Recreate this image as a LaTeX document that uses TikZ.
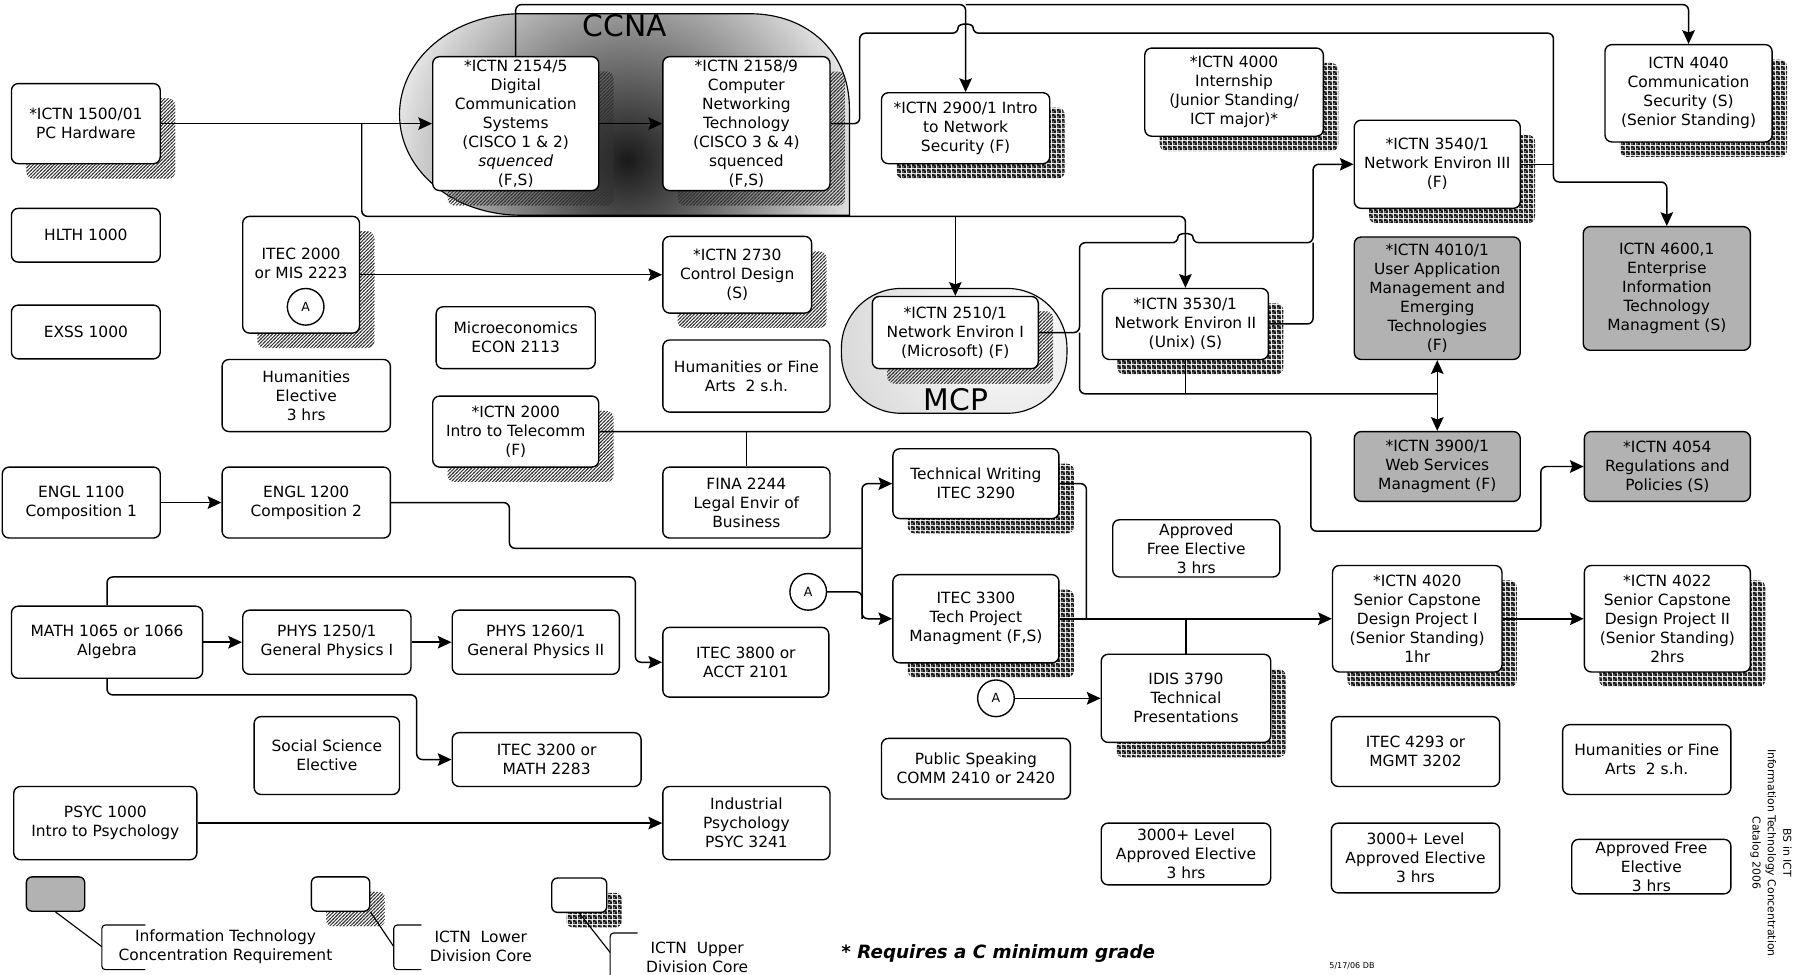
\documentclass[tikz,border=0pt]{standalone}
\usepackage{fontspec}
\setmainfont{DejaVu Sans}
\usetikzlibrary{arrows.meta, positioning, shadows, patterns}

\pgfdeclarepatternformonly{hatchshade}{\pgfqpoint{-1pt}{-1pt}}{\pgfqpoint{4pt}{4pt}}{\pgfqpoint{3pt}{3pt}}{%
  \pgfsetlinewidth{0.8pt}
  \pgfpathmoveto{\pgfqpoint{-0.5pt}{-0.5pt}}
  \pgfpathlineto{\pgfqpoint{3.5pt}{3.5pt}}
  \pgfusepath{stroke}}
\pgfdeclarepatternformonly{dotshade}{\pgfqpoint{0pt}{0pt}}{\pgfqpoint{4pt}{4pt}}{\pgfqpoint{4pt}{4pt}}{%
  \pgfpathrectangle{\pgfqpoint{0pt}{0pt}}{\pgfqpoint{4pt}{4pt}}
  \pgfpathcircle{\pgfqpoint{1pt}{1pt}}{0.85pt}
  \pgfpathcircle{\pgfqpoint{3pt}{3pt}}{0.85pt}
  \pgfseteorule
  \pgfusepath{fill}}

\newcommand{\crsfont}{\fontsize{13.5}{16.6}\selectfont}

\begin{document}
\begin{tikzpicture}[
    x=1pt, y=-1pt, on grid,
    >={Stealth[length=12pt, width=11pt, inset=2pt]},
    wh/.style 2 args={minimum width=#1pt, minimum height=#2pt},
    course/.style={draw, line width=1.2pt, rounded corners=6pt, fill=white,
      align=center, inner sep=2pt, font=\crsfont, wh={146}{62}},
    lowcore/.style={course, general shadow={shadow xshift=13pt,
      shadow yshift=-13pt, pattern=hatchshade, pattern color=black!80}},
    upcore/.style={course, general shadow={shadow xshift=13pt,
      shadow yshift=-13pt, pattern=dotshade, pattern color=black!90}},
    itreq/.style={course, fill=black!30},
    tagA/.style={draw, circle, line width=1.2pt, minimum size=32pt,
      inner sep=0pt, fill=white, font=\fontsize{11}{13}\selectfont},
    flow/.style={line width=1.3pt, rounded corners=5pt},
    keyline/.style={line width=1pt},
  ]
  \fill[white] (0,0) rectangle (1568,851);
  \useasboundingbox (0,0) rectangle (1568,851);

  % CCNA and MCP groups
  \draw[line width=1pt, path picture={\shade[inner color=black!90, outer color=white] (548,140) circle (230);}]
    (455,12) -- (655,12) .. controls (705,12) and (742,45) .. (742,95)
    -- (742,188) -- (455,188) .. controls (396,188) and (349,149) .. (349,100)
    .. controls (349,51) and (396,12) .. (455,12) -- cycle;
  \draw[line width=1pt, rounded corners=52pt, path picture={\shade[inner color=white, outer color=black!30] (880,285) circle (300);}]
    (735,252) rectangle (932,361);

  % first year
  \node[lowcore, wh={130}{70}] (ictn1500) at (75,108) {*ICTN 1500/01\\PC Hardware};
  \node[course, wh={130}{47}] (hlth) at (75,205.5) {HLTH 1000};
  \node[course, wh={130}{47}] (exss) at (75,290) {EXSS 1000};
  \node[course, wh={138}{62}] (engl1100) at (71,439) {ENGL 1100\\Composition 1};
  \node[course, wh={167}{63}] (math) at (93.5,561) {MATH 1065 or 1066\\Algebra};
  \node[course, wh={160}{64}] (psyc1000) at (92,719) {PSYC 1000\\Intro to Psychology};

  \node[lowcore, wh={102}{102}, label={[font=\crsfont, align=center, anchor=north, inner sep=0pt, yshift=-28pt]north:{ITEC 2000\\or MIS 2223}}] (itec2000) at (263,240) {};
  \node[tagA] (circA1) at (267,268) {A};
  \node[course, wh={147}{63}] (humel) at (267.5,345.5) {Humanities\\Elective\\3 hrs};
  \node[course, wh={147}{62}, right=196.5pt of engl1100] (engl1200) {ENGL 1200\\Composition 2};
  \node[course, wh={147}{56}, right=192pt of math] (phys1250) {PHYS 1250/1\\General Physics I};
  \node[course, wh={127}{68}] (socsci) at (285.5,660) {Social Science\\Elective};

  % second year
  \node[course, wh={139}{54}] (econ) at (450.5,295) {Microeconomics\\ECON 2113};
  \node[lowcore, wh={145}{62}] (ictn2000) at (450.5,377) {*ICTN 2000\\Intro to Telecomm\\(F)};
  \node[course, wh={146}{56}, right=182.5pt of phys1250] (phys1260) {PHYS 1260/1\\General Physics II};
  \node[course, wh={165}{47}] (itec3200) at (477.5,663.5) {ITEC 3200 or\\MATH 2283};
  \node[lowcore, wh={145}{117}] (ictn2154) at (450.5,108) {*ICTN 2154/5\\Digital\\Communication\\Systems\\(CISCO 1 \& 2)\\\textit{squenced}\\(F,S)};
  \node[lowcore, wh={146}{117}, right=201.5pt of ictn2154] (ictn2158) {*ICTN 2158/9\\Computer\\Networking\\Technology\\(CISCO 3 \& 4)\\squenced\\(F,S)};
  \node[lowcore, wh={130}{67}] (ictn2730) at (644,240) {*ICTN 2730\\Control Design\\(S)};
  \node[course, wh={146}{63}] (humfa1) at (652,328.5) {Humanities or Fine\\Arts \ 2 s.h.};
  \node[course, wh={146}{62}] (fina) at (652,439) {FINA 2244\\Legal Envir of\\Business};
  \node[course, wh={145}{61}] (itec3800) at (651.5,578.5) {ITEC 3800 or\\ACCT 2101};
  \node[course, wh={146}{64}, right=560pt of psyc1000] (indpsy) {Industrial\\Psychology\\PSYC 3241};

  % third year
  \node[upcore, wh={147}{62}] (ictn2900) at (843.5,112) {*ICTN 2900/1 Intro\\to Network\\Security (F)};
  \node[lowcore, wh={145}{63}] (ictn2510) at (834.5,290.5) {*ICTN 2510/1\\Network Environ I\\(Microsoft) (F)};
  \node[upcore, wh={145}{61}] (techw) at (852.5,422.5) {Technical Writing\\ITEC 3290};
  \node[upcore, wh={145}{77}] (itec3300) at (852.5,540.5) {ITEC 3300\\Tech Project\\Managment (F,S)};
  \node[tagA] (circA2) at (706,517) {A};
  \node[tagA] (circA3) at (870,610) {A};
  \node[course, wh={165}{53}] (pubspk) at (852.5,671.5) {Public Speaking\\COMM 2410 or 2420};
  \node[upcore, wh={156}{77}] (ictn4000) at (1078,80.5) {*ICTN 4000\\Internship\\(Junior Standing/\\ICT major)*};
  \node[upcore, wh={145}{62}] (ictn3530) at (1035.5,283) {*ICTN 3530/1\\Network Environ II\\(Unix) (S)};
  \node[course, wh={146}{50}] (freeel1) at (1045,479) {Approved\\Free Elective\\3 hrs};
  \node[upcore, wh={148}{77}] (idis) at (1036,610) {IDIS 3790\\Technical\\Presentations};
  \node[course, wh={148}{54}] (lvl3000a) at (1036,746) {3000+ Level\\Approved Elective\\3 hrs};

  % fourth year
  \node[upcore, wh={145}{77}] (ictn3540) at (1255.5,143.5) {*ICTN 3540/1\\Network Environ III\\(F)};
  \node[itreq, wh={145}{107}] (ictn4010) at (1255.5,260.5) {*ICTN 4010/1\\User Application\\Management and\\Emerging\\Technologies\\(F)};
  \node[itreq, wh={145}{61}] (ictn3900) at (1255.5,407.5) {*ICTN 3900/1\\Web Services\\Managment (F)};
  \node[upcore, wh={148}{93}] (ictn4020) at (1238,540.5) {*ICTN 4020\\Senior Capstone\\Design Project I\\(Senior Standing)\\1hr};
  \node[course, wh={147}{61}] (itec4293) at (1236.5,656.5) {ITEC 4293 or\\MGMT 3202};
  \node[course, wh={147}{61}] (lvl3000b) at (1236.5,749.5) {3000+ Level\\Approved Elective\\3 hrs};
  \node[upcore, wh={146}{85}] (ictn4040) at (1475,81.5) {ICTN 4040\\Communication\\Security (S)\\(Senior Standing)};
  \node[itreq, wh={146}{108}] (ictn4600) at (1456,252) {ICTN 4600,1\\Enterprise\\Information\\Technology\\Managment (S)};
  \node[itreq, wh={145}{61}, right=201pt of ictn3900] (ictn4054) {*ICTN 4054\\Regulations and\\Policies (S)};
  \node[upcore, wh={145}{93}, right=218.5pt of ictn4020] (ictn4022) {*ICTN 4022\\Senior Capstone\\Design Project II\\(Senior Standing)\\2hrs};
  \node[course, wh={147}{61}] (humfa2) at (1438.5,663.5) {Humanities or Fine\\Arts \ 2 s.h.};
  \node[course, wh={139}{46}] (freeel2) at (1442.5,757) {Approved Free\\Elective\\3 hrs};

  % bus points
  \coordinate (top) at (452,4);
  \coordinate (j1500) at (316,108);
  \coordinate (bus2510) at (316,189);
  \coordinate (bus4600) at (1357,29);
  \coordinate (j2510) at (943,290.5);
  \coordinate (j3900) at (1255.5,344);
  \coordinate (j1200) at (753,479);

  % prerequisites
  \draw[flow,->] (ictn1500.east) -- (ictn2154.west);
  \draw[flow,->] (j1500) -- (bus2510) -| (ictn3530.north);
  \draw[flow,->] (ictn2510.north |- bus2510) -- (ictn2510.north);
  \draw[flow,->] (ictn2154.east) -- (ictn2158.west);
  \draw[flow,->] (ictn2154.north) |- (ictn2900.north |- top) -- (ictn2900.north);
  \draw[flow,->] (ictn2900.north |- top) -| (ictn4040.north);
  \draw[flow,->] (ictn2158.east) -- (751,108) -- (751,29) -- (837,29)
    .. controls (837,20) and (850,20) .. (850,29) -- (bus4600) -- (1357,159) -| (ictn4600.north);
  \draw[flow] (ictn3540.east) -- (ictn3540.east -| bus4600);
  \draw[flow,->] (itec2000.east |- ictn2730) -- (ictn2730.west);
  \draw[flow,->] (ictn2510.east) -- (j2510) -- (943,212) -- (1029,212)
    .. controls (1029,203) and (1042,203) .. (1042,212) -- (1147,212) |- (ictn3540.west);
  \draw[flow] (ictn3530.east) -| (1147,212);
  \draw[flow] (j2510) |- (j3900);
  \draw[flow] (ictn3530.south) -- (ictn3530.south |- j3900);
  \draw[flow,->] (j3900) -- (ictn3900.north);
  \draw[flow,->] (j3900) -- (ictn4010.south);
  \draw[flow,->] (ictn2000.east) -- (1145,377) -- (1145,464) -- (1346,464) |- (ictn4054.west);
  \draw[flow] (fina.north) -- (fina.north |- ictn2000.east);
  \draw[flow,->] (engl1100.east) -- (engl1200.west);
  \draw[flow] (engl1200.east) -- (445,439) -- (445,479) -- (j1200);
  \draw[flow,->] (j1200) |- (techw.west);
  \draw[flow,->] (j1200) |- (itec3300.west);
  \draw[flow] (circA2.east) -| (j1200 |- itec3300.west);
  \draw[flow] (techw.east) -| (949,540.5);
  \draw[flow,->] (itec3300.east) -- (ictn4020.west);
  \draw[flow] (idis.north) -- (idis.north |- itec3300.east);
  \draw[flow,->] (ictn4020.east) -- (ictn4022.west);
  \draw[flow,->] (circA3.east) -- (idis.west |- circA3.east);
  \draw[flow,->] (math.east) -- (phys1250.west);
  \draw[flow,->] (phys1250.east) -- (phys1260.west);
  \draw[flow,->] (math.north) |- (555,504) |- (itec3800.west);
  \draw[flow,->] (math.south) |- (364,607) |- (itec3200.west);
  \draw[flow,->] (psyc1000.east) -- (indpsy.west);

  % group titles
  \node[font=\fontsize{26}{30}\selectfont] (ccna) at (546,22) {CCNA};
  \node[font=\fontsize{26}{30}\selectfont] (mcp) at (835,349) {MCP};

  % key
  \node[itreq, wh={51}{30}, rounded corners=5pt] (keyit) at (48.5,781) {};
  \draw[keyline] (keyit.south) -- (89,827);
  \draw[keyline, rounded corners=3pt] (127,808) -- (89,808) -- (89,847) -- (127,847);
  \node[font=\crsfont, align=center] (keyittext) at (197,827) {Information Technology\\Concentration Requirement};
  \node[lowcore, wh={51}{30}, rounded corners=5pt] (keylow) at (297.5,781) {};
  \draw[keyline] (keylow.south east) -- (344,827);
  \draw[keyline, rounded corners=3pt] (368,808) -- (344,808) -- (344,847) -- (368,847);
  \node[font=\crsfont, align=center] (keylowtext) at (420,827) {ICTN \ Lower\\Division Core};
  \node[upcore, wh={48}{30}, rounded corners=5pt] (keyup) at (506,782) {};
  \draw[keyline] (keyup.south) -- (533,832);
  \draw[keyline, rounded corners=3pt] (557,815) -- (533,815) -- (533,856) -- (557,856);
  \node[font=\crsfont, align=center] (keyuptext) at (609,836) {ICTN \ Upper\\Division Core};

  \node[font=\fontsize{16}{19}\selectfont\bfseries\itshape] (gradenote) at (872,833) {* Requires a C minimum grade};
  \node[font=\fontsize{7}{8}\selectfont] (datestamp) at (1181,844) {5/17/06 DB};
  \node[rotate=-90, align=center, font=\fontsize{9.5}{13.5}\selectfont] (catalog) at (1547,745) {BS in ICT\\Information Technology Concentration\\Catalog 2006};
\end{tikzpicture}
\end{document}
